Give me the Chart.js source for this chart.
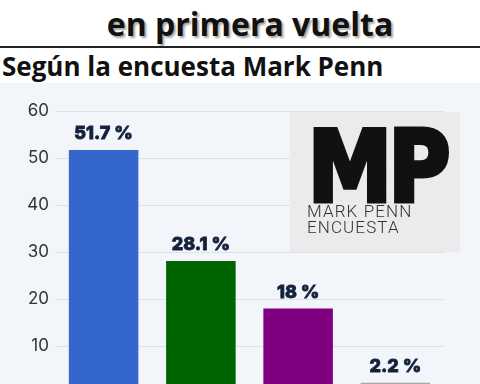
<!DOCTYPE html>
<html>
<head>
<meta charset="utf-8">
<script src="https://cdn.jsdelivr.net/npm/chart.js@4"></script>
<style>
  html, body { margin: 0; padding: 0; }
  body { width: 480px; height: 384px; overflow: hidden; background: #fff; position: relative; font-family: "Open Sans", sans-serif; }
  .title { position: absolute; top: 8px; left: 10px; width: 480px; text-align: center; font-weight: 700; font-size: 32px; line-height: 32px; color: #111; text-shadow: 2px 2px 2px rgba(0,0,0,0.35); }
  .rule { position: absolute; top: 46px; left: 0; width: 480px; height: 2px; background: #222; }
  .subtitle { position: absolute; top: 53px; left: 2px; font-weight: 700; font-size: 26px; line-height: 26px; color: #111; }
  .chart-box { position: absolute; top: 83px; left: 0; width: 480px; height: 301px; background: #f2f5f9; overflow: hidden; }
  .chart-box canvas { position: absolute; top: 0; left: 0; }
  .logo { position: absolute; left: 290px; top: 112px; width: 170px; height: 140px; background: #ebebeb; }
  .logo .mp { position: absolute; left: 18px; top: 5px; font-family: "DejaVu Sans", sans-serif; font-weight: 700; font-size: 98px; line-height: 100px; letter-spacing: -4px; color: #111; -webkit-text-stroke: 5px #111; transform: scaleX(0.86); transform-origin: left top; }
  .logo .name { position: absolute; left: 17px; top: 91px; font-family: Roboto, sans-serif; font-weight: 300; font-size: 17px; line-height: 16px; letter-spacing: 1.1px; color: #333; }
</style>
</head>
<body>
<div class="title">en primera vuelta</div>
<div class="rule"></div>
<div class="subtitle">Según la encuesta Mark Penn</div>
<div class="chart-box">
  <canvas id="bar_chart" width="480" height="330"></canvas>
</div>
<div class="logo">
  <div class="mp">MP</div>
  <div class="name">MARK PENN<br>ENCUESTA</div>
</div>
<script>
const categories = ["Candidato 1", "Candidato 2", "Candidato 3", "Candidato 4"];
const percentages = [51.7, 28.1, 18, 2.2];
const barColors = ["#3566cc", "#006400", "#7f007f", "#a8a8a8"];
const yTicks = [0, 10, 20, 30, 40, 50, 60];

// value labels above each bar
const valueLabels = {
  id: "valueLabels",
  afterDatasetsDraw(chart) {
    const ctx = chart.ctx;
    const meta = chart.getDatasetMeta(0);
    ctx.save();
    ctx.font = "800 18px Inter, sans-serif";
    ctx.fillStyle = "#14213d";
    ctx.strokeStyle = "#14213d";
    ctx.lineWidth = 0.8;
    ctx.textAlign = "center";
    ctx.textBaseline = "middle";
    meta.data.forEach((bar, i) => {
      const txt = percentages[i] + " %";
      ctx.fillText(txt, bar.x, bar.y - 16);
      ctx.strokeText(txt, bar.x, bar.y - 16);
    });
    ctx.restore();
  },
};

const ctx = document.getElementById("bar_chart").getContext("2d");
new Chart(ctx, {
  type: "bar",
  data: {
    labels: categories,
    datasets: [
      {
        data: percentages,
        backgroundColor: barColors,
        borderWidth: 0,
        categoryPercentage: 1,
        barPercentage: 0.715,
      },
    ],
  },
  options: {
    responsive: false,
    animation: false,
    layout: { padding: { top: 28, bottom: 20, left: 0, right: 36 } },
    plugins: { legend: { display: false }, tooltip: { enabled: false } },
    scales: {
      x: { display: false },
      y: {
        min: 0,
        max: 60,
        afterBuildTicks: (scale) => {
          scale.ticks = yTicks.map((v) => ({ value: v }));
        },
        afterFit: (scale) => {
          scale.width = 55;
        },
        border: { display: false },
        grid: { color: "#dde2e8", drawTicks: false },
        ticks: {
          padding: 6,
          color: "#333",
          font: { family: "Inter", size: 17 },
        },
      },
    },
  },
  plugins: [valueLabels],
});
</script>
</body>
</html>
